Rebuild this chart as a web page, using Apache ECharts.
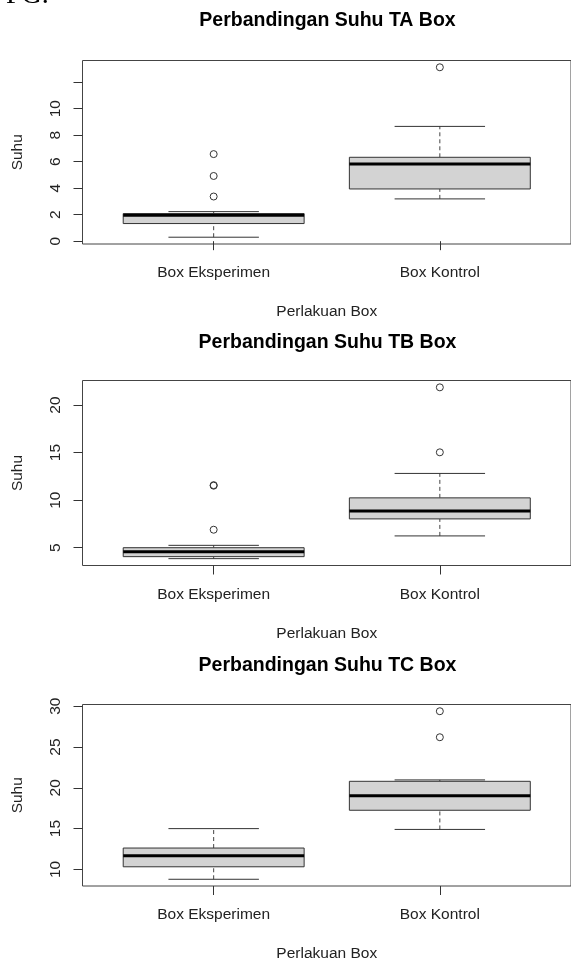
<!DOCTYPE html>
<html>
<head>
<meta charset="utf-8">
<title>Perbandingan Suhu Box</title>
<script src="https://cdn.jsdelivr.net/npm/echarts@6/dist/echarts.min.js"></script>
<style>
html, body { margin: 0; padding: 0; background: #fff; }
#chart { width: 571px; height: 963px; }
</style>
</head>
<body>
<div id="chart"></div>
<script>
// kelompok perlakuan
var groups = ["Box Eksperimen", "Box Kontrol"];
var panelTitles = ["Perbandingan Suhu TA Box", "Perbandingan Suhu TB Box", "Perbandingan Suhu TC Box"];

// [whisker bawah, Q1, median, Q3, whisker atas] untuk tiap kelompok
var boxTA = [[0.30, 1.33, 1.96, 2.08, 2.23], [3.19, 3.94, 5.82, 6.33, 8.66]];
var boxTB = [[3.85, 4.06, 4.58, 5.00, 5.25], [6.24, 8.03, 8.87, 10.24, 12.81]];
var boxTC = [[8.79, 10.32, 11.66, 12.62, 15.00], [14.90, 17.25, 19.03, 20.80, 20.97]];

// outlier tiap kelompok
var outTA = [[3.37, 4.92, 6.57], [13.12]];
var outTB = [[6.89, 11.52, 11.58], [15.03, 21.86]];
var outTC = [[], [26.20, 29.39]];

// tick sumbu y
var ticksTA = [0, 2, 4, 6, 8, 10, 12];
var labelsTA = [0, 2, 4, 6, 8, 10];
var ticksTB = [5, 10, 15, 20];
var ticksTC = [10, 15, 20, 25, 30];

var FONT = "'Liberation Sans', Arial, sans-serif";

var panels = [
  { title: panelTitles[0], box: boxTA, out: outTA, ticks: ticksTA, labels: labelsTA, top: 60.5, height: 183.5, titleY: 21 },
  { title: panelTitles[1], box: boxTB, out: outTB, ticks: ticksTB, labels: ticksTB, top: 380.5, height: 185, titleY: 343 },
  { title: panelTitles[2], box: boxTC, out: outTC, ticks: ticksTC, labels: ticksTC, top: 704.5, height: 183.5, titleY: 666 }
];

// rentang y seperti R: rentang data diperlebar 4%
function yRange(box, out) {
  var vals = [];
  box.forEach(function (b) { vals.push(b[0], b[4]); });
  out.forEach(function (o) { vals = vals.concat(o); });
  var mn = Math.min.apply(null, vals), mx = Math.max.apply(null, vals);
  var pad = (mx - mn) * 0.04;
  return [mn - pad, mx + pad];
}

function renderBox(params, api) {
  var x = api.value(0);
  var lo = api.value(1), q1 = api.value(2), md = api.value(3), q3 = api.value(4), hi = api.value(5);
  var c = function (xx, yy) { return api.coord([xx, yy]); };
  var line = function (a, b, style) {
    return { type: "line", shape: { x1: a[0], y1: a[1], x2: b[0], y2: b[1] }, style: style };
  };
  var dash = { stroke: "#444", lineWidth: 1, lineDash: [4, 3] };
  var solid = { stroke: "#333", lineWidth: 1 };
  var tl = c(x - 0.4, q3), br = c(x + 0.4, q1);
  return {
    type: "group",
    children: [
      line(c(x, q3), c(x, hi), dash),
      line(c(x, lo), c(x, q1), dash),
      line(c(x - 0.2, hi), c(x + 0.2, hi), solid),
      line(c(x - 0.2, lo), c(x + 0.2, lo), solid),
      { type: "rect", shape: { x: tl[0], y: tl[1], width: br[0] - tl[0], height: br[1] - tl[1] },
        style: { fill: "#d3d3d3", stroke: "#333", lineWidth: 1 } },
      line(c(x - 0.4, md), c(x + 0.4, md), { stroke: "#000", lineWidth: 3 })
    ]
  };
}

var grids = [], xAxes = [], yAxes = [], series = [], graphics = [];

panels.forEach(function (p, i) {
  var yr = yRange(p.box, p.out);
  grids.push({ left: 82.5, width: 490, top: p.top, height: p.height, show: true,
    borderColor: "#444", borderWidth: 1, backgroundColor: "transparent" });
  xAxes.push({
    gridIndex: i, type: "value", min: 0.42, max: 2.58,
    axisLine: { show: false }, splitLine: { show: false },
    axisTick: { customValues: [1, 2], length: 9, lineStyle: { color: "#333" } },
    axisLabel: { customValues: [1, 2], margin: 21, color: "#222", fontSize: 15.5, fontFamily: FONT,
      formatter: function (v) { return groups[Math.round(v) - 1]; } },
    name: "Perlakuan Box", nameLocation: "middle", nameGap: 60,
    nameTextStyle: { color: "#222", fontSize: 15.5, fontFamily: FONT }
  });
  yAxes.push({
    gridIndex: i, type: "value", min: yr[0], max: yr[1],
    axisLine: { show: false }, splitLine: { show: false },
    axisTick: { customValues: p.ticks, length: 9, lineStyle: { color: "#333" } },
    axisLabel: { customValues: p.labels, rotate: 90, margin: 19, color: "#222", fontSize: 15.5, fontFamily: FONT },
    name: "Suhu", nameLocation: "middle", nameGap: 57,
    nameTextStyle: { color: "#222", fontSize: 15.5, fontFamily: FONT }
  });
  series.push({
    type: "custom", xAxisIndex: i, yAxisIndex: i,
    renderItem: renderBox,
    encode: { x: 0, y: [1, 2, 3, 4, 5] },
    data: p.box.map(function (b, k) { return [k + 1].concat(b); })
  });
  var pts = [];
  p.out.forEach(function (o, k) { o.forEach(function (v) { pts.push([k + 1, v]); }); });
  series.push({
    type: "scatter", xAxisIndex: i, yAxisIndex: i, symbol: "circle", symbolSize: 7,
    itemStyle: { color: "transparent", borderColor: "#333", borderWidth: 1, opacity: 1 },
    data: pts
  });
  graphics.push({
    type: "text", x: 327.5, y: p.titleY,
    style: { text: p.title, font: "bold 19.5px " + FONT, fill: "#000",
      align: "center", verticalAlign: "middle", textAlign: "center", textVerticalAlign: "middle" }
  });
});

// potongan teks di pojok kiri atas (hanya bagian bawahnya yang tampak)
graphics.push({
  type: "text", x: 6, y: 10,
  style: { text: "FG.", font: "28px 'Liberation Serif', serif", fill: "#000",
    verticalAlign: "bottom", textVerticalAlign: "bottom" }
});

var myChart = echarts.init(document.getElementById("chart"));
myChart.setOption({
  animation: false,
  grid: grids,
  xAxis: xAxes,
  yAxis: yAxes,
  series: series,
  graphic: graphics
});
</script>
</body>
</html>
